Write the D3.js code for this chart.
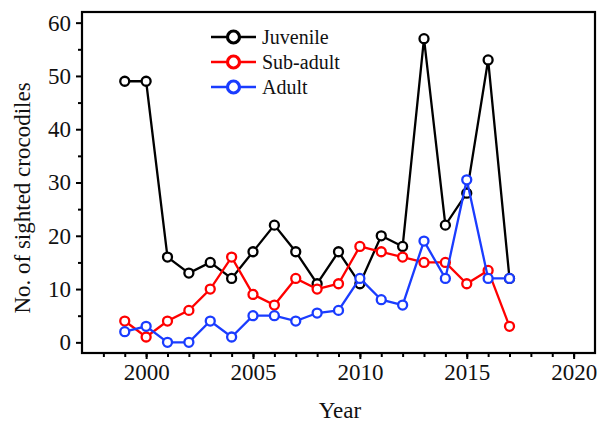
<!DOCTYPE html>
<html><head><meta charset="utf-8">
<script src="https://cdn.jsdelivr.net/npm/d3@7"></script>
<style>body{margin:0;background:#fff}svg{display:block}</style>
</head><body>
<svg id="c" width="597" height="423"></svg>
<script>
const years = [1999,2000,2001,2002,2003,2004,2005,2006,2007,2008,2009,2010,2011,2012,2013,2014,2015,2016,2017];
const juvenile = [49,49,16,13,15,12,17,22,17,11,17,11,20,18,57,22,28,53,12];
const subAdult = [4,1,4,6,10,16,9,7,12,10,11,18,17,16,15,15,11,13.5,3];
const adult = [2,3,0,0,4,1,5,5,4,5.5,6,12,8,7,19,12,30.5,12,12];
const seriesNames = ["Juvenile","Sub-adult","Adult"];
const seriesColors = ["#000000","#ff0000","#1a3cff"];
const xTicks = [2000,2005,2010,2015,2020];
const yTicks = [0,10,20,30,40,50,60];

const FONT = "'Liberation Serif', 'Times New Roman', serif";
const svg = d3.select("#c");
const L=82, R=595, T=12, B=353;
const x = d3.scaleLinear().domain([1997,2021]).range([L,R]);
const y = d3.scaleLinear().domain([-2,62]).range([B,T]);

function styleAxis(g){
  g.select(".domain").remove();
  g.selectAll("line").attr("stroke","#000").attr("stroke-width",2);
  g.selectAll("text").style("font-family",FONT).style("font-size","23px").style("fill","#111");
}
// minor ticks
svg.append("g").attr("transform",`translate(0,${B})`)
  .call(d3.axisBottom(x).tickValues(d3.range(1998,2021)).tickSize(4).tickFormat(""))
  .call(styleAxis);
svg.append("g").attr("transform",`translate(${L},0)`)
  .call(d3.axisLeft(y).tickValues(d3.range(5,60,10)).tickSize(4).tickFormat(""))
  .call(styleAxis);
// major ticks
svg.append("g").attr("transform",`translate(0,${B})`)
  .call(d3.axisBottom(x).tickValues(xTicks).tickSize(6).tickPadding(5).tickFormat(d3.format("d")))
  .call(styleAxis);
svg.append("g").attr("transform",`translate(${L},0)`)
  .call(d3.axisLeft(y).tickValues(yTicks).tickSize(6).tickPadding(5))
  .call(styleAxis);

// frame
svg.append("rect").attr("x",L).attr("y",T).attr("width",R-L).attr("height",B-T)
  .attr("fill","none").attr("stroke","#000").attr("stroke-width",2.2);

const data = [juvenile, subAdult, adult];
const line = d3.line().x((d,i)=>x(years[i])).y(d=>y(d));
data.forEach((vals,k)=>{
  const g = svg.append("g");
  g.append("path").datum(vals).attr("d",line).attr("fill","none")
    .attr("stroke",seriesColors[k]).attr("stroke-width",2.3);
  g.selectAll("circle").data(vals).join("circle")
    .attr("cx",(d,i)=>x(years[i])).attr("cy",d=>y(d)).attr("r",4.5)
    .attr("fill","#fff").attr("stroke",seriesColors[k]).attr("stroke-width",2.3);
});

// legend
const lg = svg.append("g");
seriesNames.forEach((n,k)=>{
  const yy = 37 + k*25;
  lg.append("line").attr("x1",211).attr("x2",256).attr("y1",yy).attr("y2",yy)
    .attr("stroke",seriesColors[k]).attr("stroke-width",2.3);
  lg.append("circle").attr("cx",233.5).attr("cy",yy).attr("r",6)
    .attr("fill","#fff").attr("stroke",seriesColors[k]).attr("stroke-width",3.2);
  lg.append("text").attr("x",262).attr("y",yy).attr("dy","0.35em")
    .style("font-family",FONT).style("font-size","20px").style("fill","#111").text(n);
});

// axis titles
svg.append("text").attr("x",340).attr("y",418).attr("text-anchor","middle")
  .style("font-family",FONT).style("font-size","23px").style("fill","#111").text("Year");
svg.append("text").attr("transform","translate(30,198) rotate(-90)")
  .attr("text-anchor","middle")
  .style("font-family",FONT).style("font-size","23px").style("fill","#111").text("No. of sighted crocodiles");
</script>
</body></html>
